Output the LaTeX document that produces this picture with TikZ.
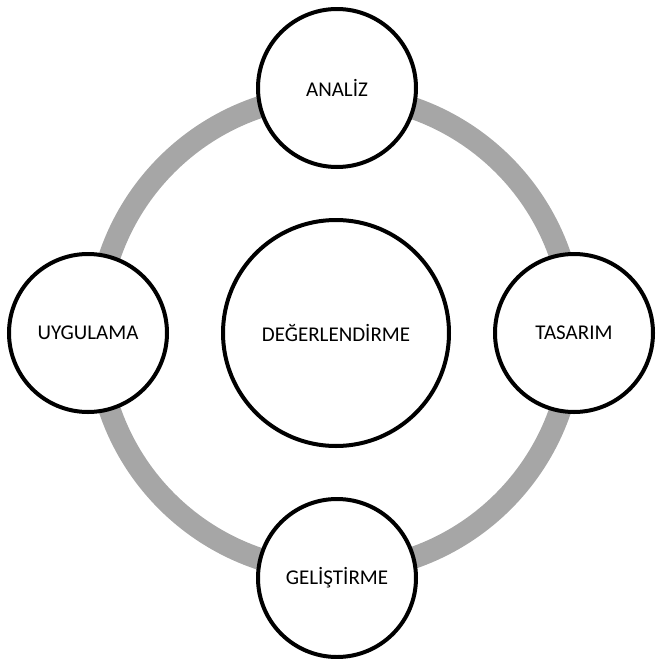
\documentclass[tikz,border=0pt]{standalone}
\usepackage{fontspec}
\setmainfont{Carlito}
\begin{document}
\begin{tikzpicture}[x=1pt,y=-1pt,
  phase/.style={circle,draw=black,line width=4pt,fill=white,minimum size=#1,inner sep=0pt,
    font=\fontsize{21}{25}\selectfont},
  phase/.default=158pt,
  cycle ring/.style={draw=ringgray,line width=22pt}]
\definecolor{ringgray}{HTML}{A6A6A6}
\useasboundingbox (0,0) rectangle (656,659);
% grey cycle ring behind the phases
\coordinate (hub) at (335,333);
\draw[cycle ring] (hub) circle[radius=238pt];
% phases on the ring
\node[phase] (analiz) at (337,88) {ANALİZ};
\node[phase] (tasarim) at (574,333) {TASARIM};
\node[phase] (gelistirme) at (337,578) {GELİŞTİRME};
\node[phase] (uygulama) at (88,333) {UYGULAMA};
% central evaluation
\node[phase=226pt] (degerlendirme) at (336,333) {DEĞERLENDİRME};
\end{tikzpicture}
\end{document}
